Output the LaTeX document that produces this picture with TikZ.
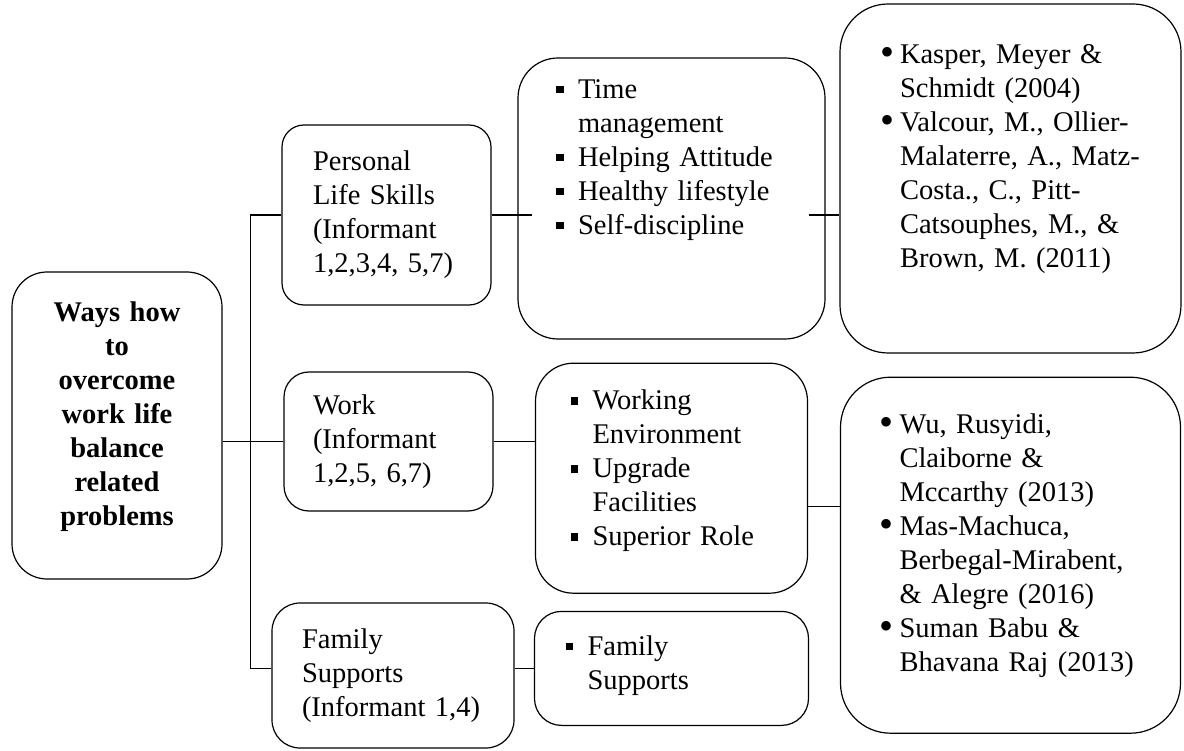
\documentclass[tikz,border=0pt]{standalone}
\usepackage{fontspec}
\setmainfont{Liberation Serif}
\usetikzlibrary{positioning}
\newcommand{\boxfont}{\fontsize{28.5}{34}\selectfont\setlength{\parskip}{0pt}}
\newcommand{\sqitem}[1]{\par\hangindent=22pt\hangafter=1\noindent\makebox[22pt][l]{\rule[5pt]{7.5pt}{7.5pt}}#1\par}
\newcommand{\dotitem}[1]{\par\hangindent=20pt\hangafter=1\noindent\makebox[20pt][l]{\raisebox{-2pt}{\fontsize{40}{34}\selectfont\textbullet}}#1\par}
\newcommand{\pushup}[1]{\rule[-#1pt]{0pt}{#1pt}} % lifts the text inside its box
\tikzset{
    box/.style={draw, line width=1.2pt, inner sep=0pt, align=left, font=\boxfont}, % every rounded box
    link/.style={line width=1.2pt}, % the plain connectors
}

\begin{document}
\begin{tikzpicture}[x=1pt, y=-1pt]
        \useasboundingbox (0,0) rectangle (1184,751);

        \node[box, rounded corners=35pt, minimum width=210pt, minimum height=307pt, text width=190pt, align=center, font=\boxfont\bfseries] (root) at (117,425.5) {Ways how\\to\\overcome\\work life\\balance\\related\\problems\pushup{23}};

        \node[box, rounded corners=22pt, minimum width=209pt, minimum height=180pt, text width=147pt] (personal) at (386.5,215) {Personal\\Life Skills\\(Informant\\1,2,3,4, 5,7)};
        \node[box, rounded corners=25pt, minimum width=209pt, minimum height=139pt, text width=151pt] (work) at (388.5,441.5) {Work\\(Informant\\1,2,5, 6,7)};
        \node[box, rounded corners=28pt, minimum width=242pt, minimum height=145pt, text width=182pt] (family) at (393,675.5) {Family\\Supports\\(Informant 1,4)};

        \node[box, rounded corners=40pt, minimum width=307pt, minimum height=281pt, text width=231pt] (time) at (671.5,198.5) {
            \sqitem{Time\newline management}
            \sqitem{Helping Attitude}
            \sqitem{Healthy lifestyle}
            \sqitem{Self-discipline\pushup{98}}
        };
        \node[box, rounded corners=38pt, minimum width=272pt, minimum height=230pt, text width=202pt, below=23pt of time] (workitems) {
            \sqitem{Working\newline Environment}
            \sqitem{Upgrade\newline Facilities}
            \sqitem{Superior Role\pushup{35}}
        };
        \node[box, rounded corners=27pt, minimum width=274pt, minimum height=114pt, text width=212pt, below=17pt of workitems] (famitems) {
            \sqitem{Family\newline Supports\pushup{26}}
        };

        \node[box, rounded corners=48pt, minimum width=341pt, minimum height=349pt, text width=261pt] (ref1) at (1010.5,178.5) {
            \dotitem{Kasper, Meyer \&\newline Schmidt (2004)}
            \dotitem{Valcour, M., Ollier-\newline Malaterre, A., Matz-\newline Costa., C., Pitt-\newline Catsouphes, M., \&\newline Brown, M. (2011)\pushup{60}}
        };
        \node[box, rounded corners=50pt, minimum width=340pt, minimum height=356pt, text width=262pt, below=23pt of ref1] (ref2) {
            \dotitem{Wu, Rusyidi,\newline Claiborne \&\newline Mccarthy (2013)}
            \dotitem{Mas-Machuca,\newline Berbegal-Mirabent,\newline \& Alegre (2016)}
            \dotitem{Suman Babu \&\newline Bhavana Raj (2013)\pushup{40}}
        };

        \coordinate (bus) at ([xshift=-31pt]personal.west);

        \draw[link] (root.east |- work.west) -- (work.west);
        \draw[link] (personal.west) -- (bus) |- (family.west |- famitems.west);
        \draw[link] (personal.east) -- ([xshift=15pt]time.west |- personal.east);
        \draw[link] ([xshift=-17pt]time.east |- personal.east) -- (ref1.west |- personal.east);
        \draw[link] (work.east) -- (work.east -| workitems.west);
        \draw[link] ([yshift=-28pt]workitems.east) -- ([yshift=-28pt]workitems.east -| ref2.west);
        \draw[link] (family.east |- famitems.west) -- (famitems.west);

    \end{tikzpicture}
\end{document}
